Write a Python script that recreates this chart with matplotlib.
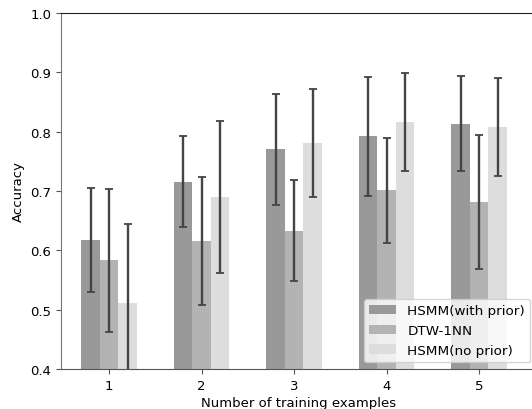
import matplotlib
matplotlib.use("Agg")
import matplotlib.pyplot as plt
import numpy as np

categories = [1, 2, 3, 4, 5]
series_names = ["HSMM(with prior)", "DTW-1NN", "HSMM(no prior)"]
with_prior = [0.617, 0.716, 0.770, 0.792, 0.813]
with_prior_err = [0.088, 0.077, 0.094, 0.100, 0.080]
dtw = [0.583, 0.616, 0.633, 0.701, 0.681]
dtw_err = [0.120, 0.108, 0.085, 0.089, 0.113]
no_prior = [0.511, 0.690, 0.781, 0.816, 0.808]
no_prior_err = [0.134, 0.128, 0.091, 0.083, 0.083]

colors = ["#999999", "#b3b3b3", "#dddddd"]

fig = plt.figure(figsize=(5.32, 4.10), dpi=100)
ax = fig.add_axes([61/532, 1-370/410, (537-61)/532, (370-14)/410])

x = np.array(categories, dtype=float)
w = 0.2
for i, (vals, errs) in enumerate([(with_prior, with_prior_err), (dtw, dtw_err), (no_prior, no_prior_err)]):
    ax.bar(x + (i-1)*w, vals, w, color=colors[i], label=series_names[i],
           yerr=errs, error_kw=dict(ecolor="#444444", elinewidth=1.7, capsize=2.7, capthick=1.3))

ax.set_ylim(0.4, 1.0)
ax.set_xlim(1-48/92.5, 1 + (537-109)/92.5)
ax.set_xticks(categories)
ax.set_yticks([0.4, 0.5, 0.6, 0.7, 0.8, 0.9, 1.0])
ax.tick_params(labelsize=9.5, color="#555555")
ax.set_xlabel("Number of training examples", fontsize=9.5, labelpad=3)
ax.set_ylabel("Accuracy", fontsize=9.5)
ax.spines["left"].set_color("#777777")
ax.spines["bottom"].set_color("#555555")
ax.spines["top"].set_color("#222222")
ax.legend(loc="lower right", fontsize=9.7)

fig.savefig("out.png", dpi=100)
